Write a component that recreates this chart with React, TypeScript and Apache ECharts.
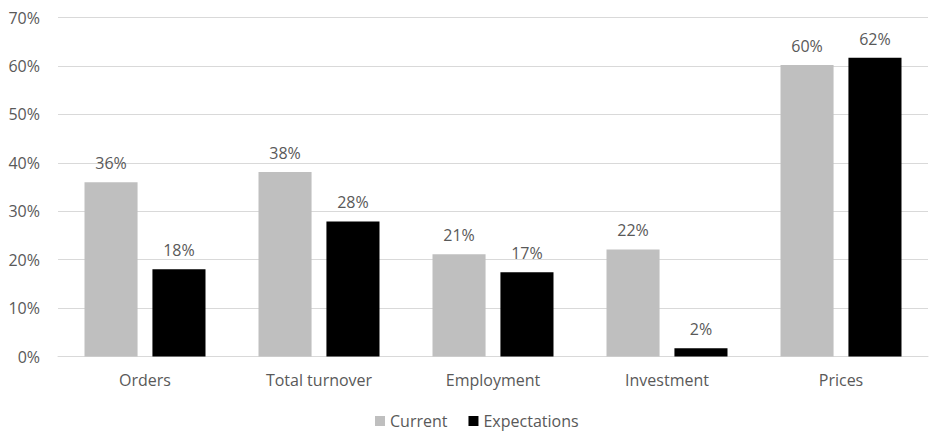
import React, { useEffect, useRef } from "react";
import * as echarts from "echarts";

const categories = ["Orders", "Total turnover", "Employment", "Investment", "Prices"];
const currentValues = [36.0, 38.1, 21.1, 22.1, 60.2];
const expectationValues = [18.0, 27.9, 17.4, 1.7, 61.7];
const currentLabels = ["36%", "38%", "21%", "22%", "60%"];
const expectationLabels = ["18%", "28%", "17%", "2%", "62%"];

const FONT = "Open Sans";
const TXT = "#595959";

export default function App() {
  const ref = useRef<HTMLDivElement>(null);
  useEffect(() => {
    if (!ref.current) return;
    const chart = echarts.init(ref.current, null, { renderer: "svg" });
    chart.setOption({
      animation: false,
      textStyle: { fontFamily: FONT },
      grid: { left: 58, right: 1, top: 17.5, bottom: 75.5 },
      legend: {
        data: ["Current", "Expectations"],
        left: 373,
        top: 411,
        padding: 2,
        itemWidth: 10,
        itemHeight: 10,
        itemGap: 21,
        icon: "rect",
        textStyle: { color: TXT, fontSize: 16, fontFamily: FONT },
      },
      xAxis: {
        type: "category",
        data: categories,
        axisLine: { lineStyle: { color: "#D9D9D9", width: 1 } },
        axisTick: { show: false },
        axisLabel: { color: TXT, fontSize: 16, fontFamily: FONT, margin: 15 },
      },
      yAxis: {
        type: "value",
        min: 0,
        max: 70,
        interval: 10,
        axisLine: { show: false },
        axisTick: { show: false },
        splitLine: { lineStyle: { color: "#D9D9D9", width: 1 } },
        axisLabel: {
          color: TXT,
          fontSize: 16,
          fontFamily: FONT,
          margin: 18,
          formatter: (v: number) => v + "%",
        },
      },
      series: [
        {
          name: "Current",
          type: "bar",
          data: currentValues,
          barWidth: "30.5%",
          barGap: "28%",
          itemStyle: { color: "#BFBFBF" },
          label: {
            show: true,
            position: "top",
            distance: 11,
            color: TXT,
            fontSize: 16,
            fontFamily: FONT,
            formatter: (p: any) => currentLabels[p.dataIndex],
          },
        },
        {
          name: "Expectations",
          type: "bar",
          data: expectationValues,
          barWidth: "30.5%",
          itemStyle: { color: "#000000" },
          label: {
            show: true,
            position: "top",
            distance: 11,
            color: TXT,
            fontSize: 16,
            fontFamily: FONT,
            formatter: (p: any) => expectationLabels[p.dataIndex],
          },
        },
      ],
    });
    return () => chart.dispose();
  }, []);
  return <div ref={ref} style={{ width: 929, height: 432, position: "absolute", left: 0, top: 0 }} />;
}
